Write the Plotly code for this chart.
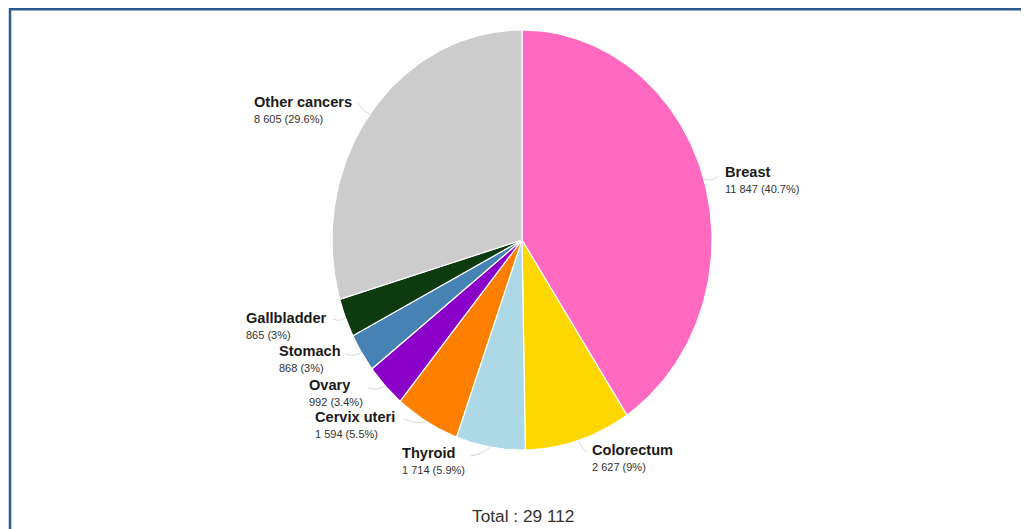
import math
import plotly.graph_objects as go

# ---- data ----
labels = ["Breast", "Colorectum", "Thyroid", "Cervix uteri", "Ovary",
          "Stomach", "Gallbladder", "Other cancers"]
values = [11847, 2627, 1714, 1594, 992, 868, 865, 8605]
colors = ["#FF69C0", "#FFD700", "#ADD8E6", "#FF7F00", "#8A00C8",
          "#4682B4", "#0E3A10", "#CCCCCC"]

# ---- layout constants (screen pixel space; page body has an 8px margin) ----
W, H = 1029, 529
OFF = 8
CX, CY, RX, RY = 522, 240, 190, 210
label_pos = [(725, 172), (592, 450), (402, 453), (315, 417), (309, 385),
             (279, 351), (246, 318), (254, 102)]
leader_end = [(719, 176), (587, 452), (470, 456), (404, 419), (368, 388),
              (345, 354), (333, 319), (358, 103)]

total = sum(values)


def fmt(n):
    return f"{n:,}".replace(",", " ")


def pct(v):
    p = round(v / total * 100, 1)
    s = f"{p:.1f}"
    if s.endswith(".0"):
        s = s[:-2]
    return s


def pt(frac, r=1.0):
    a = 2 * math.pi * frac
    return CX + RX * r * math.sin(a), CY - RY * r * math.cos(a)


fig = go.Figure()
cum = 0.0
mids = []
for lab, v, c in zip(labels, values, colors):
    f0 = cum
    f1 = cum + v / total
    cum = f1
    n = max(4, int((f1 - f0) * 400))
    xs, ys = [CX], [CY]
    for i in range(n + 1):
        x, y = pt(f0 + (f1 - f0) * i / n)
        xs.append(x)
        ys.append(y)
    xs.append(CX)
    ys.append(CY)
    fig.add_trace(go.Scatter(x=xs, y=ys, mode="lines", fill="toself",
                             fillcolor=c, line=dict(color="white", width=1.2),
                             hoverinfo="text", text=f"{lab}: {fmt(v)}",
                             showlegend=False))
    mids.append((f0 + f1) / 2)

# leader lines
for m, (ex, ey) in zip(mids, leader_end):
    sx, sy = pt(m, 1.0)
    mx, my = (sx + ex) / 2, (sy + ey) / 2
    fig.add_trace(go.Scatter(x=[sx, mx, ex], y=[sy, my + 2, ey], mode="lines",
                             line=dict(color="#DADADA", width=1, shape="spline"),
                             hoverinfo="skip", showlegend=False))

anns = []
for lab, v, (lx, ly) in zip(labels, values, label_pos):
    anns.append(dict(x=lx - 2, y=ly, xref="x", yref="y", text=f"<b>{lab}</b>",
                     showarrow=False, xanchor="left", yanchor="middle",
                     font=dict(family="Liberation Sans, Arial", size=14.6, color="#1a1a1a")))
    anns.append(dict(x=lx - 2, y=ly + 17, xref="x", yref="y",
                     text=f"{fmt(v)} ({pct(v)}%)",
                     showarrow=False, xanchor="left", yanchor="middle",
                     font=dict(family="Liberation Sans, Arial", size=11, color="#333333")))
anns.append(dict(x=523, y=516, xref="x", yref="y", text=f"Total : {fmt(total)}",
                 showarrow=False, xanchor="center", yanchor="middle",
                 font=dict(family="Liberation Sans, Arial", size=17.3, color="#333333")))

fig.update_layout(
    width=W, height=H,
    margin=dict(l=0, r=0, t=0, b=0),
    paper_bgcolor="white", plot_bgcolor="white",
    xaxis=dict(range=[OFF, W + OFF], visible=False, fixedrange=True),
    yaxis=dict(range=[H + OFF, OFF], visible=False, fixedrange=True),
    annotations=anns,
    shapes=[dict(type="rect", xref="x", yref="y", x0=10, y0=9.2, x1=W + 40, y1=H + 40,
                 line=dict(color="#2A5A8A", width=2.5), fillcolor="rgba(0,0,0,0)",
                 layer="above")],
    hovermode="closest",
)

fig.write_html("out.html")
